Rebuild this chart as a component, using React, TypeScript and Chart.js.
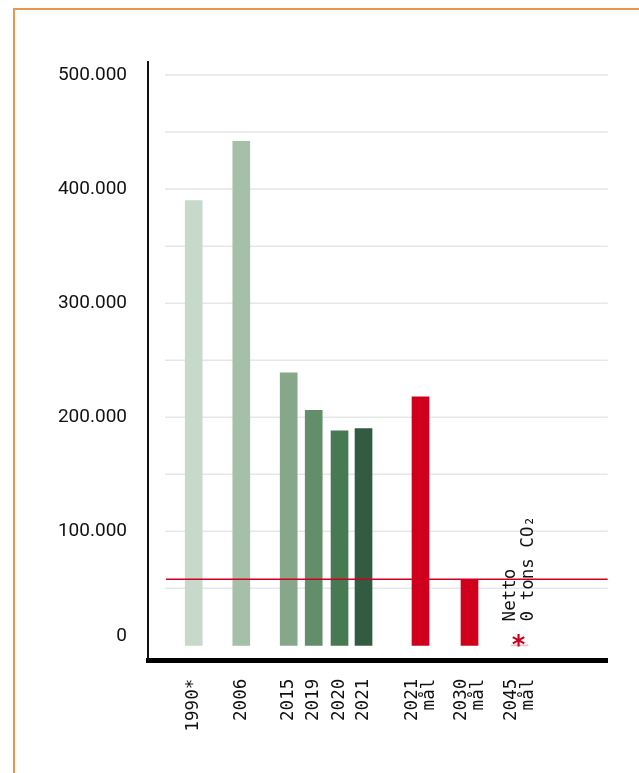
import React, { useEffect, useRef } from 'react';
import { Chart, registerables } from 'chart.js';

Chart.register(...registerables);

// ---- data ----
const categories: string[][] = [
  ['1990*'], ['2006'], ['2015'], ['2019'], ['2020'], ['2021'],
  ['2021', 'mål'], ['2030', 'mål'], ['2045', 'mål'],
];
const emissions: number[] = [390000, 442000, 239000, 206000, 188000, 190000, 218000, 58000, 0];
// x-axis slot (data units on a linear index axis) for each category
const slots: number[] = [1.89, 3.856, 5.815, 6.849, 7.916, 8.908, 11.263, 13.288, 15.355];
const gridValues: number[] = [50000, 100000, 150000, 200000, 250000, 300000, 350000, 400000, 450000, 500000];
const labelStep = 100000;
const noteLines: string[] = ['Netto', '0 tons CO₂'];
const goalIndex = 7; // red line level = 2030 goal
const netZeroIndex = 8;

// ---- styles ----
const barColors: string[] = [
  '#c6d9cb', '#a6bfa9', '#87a78b', '#628e6a', '#477a52', '#325c41',
  '#d0001c', '#d0001c', '#f4c0c6',
];
const RED = '#d0001c';
const TEXT = '#111111';
const MONO = '"DejaVu Sans Mono", monospace';

const fmt = (v: number) => String(v).replace(/\B(?=(\d{3})+(?!\d))/g, '.');

const decor = {
  id: 'decor',
  beforeDatasetsDraw(chart: any) {
    const { ctx, chartArea, scales } = chart;
    const y = scales.y;
    ctx.save();
    ctx.strokeStyle = '#e3e9e5';
    ctx.lineWidth = 1.5;
    gridValues.forEach((v) => {
      const py = y.getPixelForValue(v);
      ctx.beginPath();
      ctx.moveTo(chartArea.left + 17, py);
      ctx.lineTo(chartArea.right, py);
      ctx.stroke();
    });
    ctx.restore();
  },
  afterDatasetsDraw(chart: any) {
    const { ctx, chartArea, scales } = chart;
    const x = scales.x;
    const y = scales.y;
    const y0 = y.getPixelForValue(0);
    ctx.save();

    // goal line
    const gy = y.getPixelForValue(emissions[goalIndex]);
    ctx.strokeStyle = RED;
    ctx.lineWidth = 1.5;
    ctx.beginPath();
    ctx.moveTo(chartArea.left + 18, gy);
    ctx.lineTo(chartArea.right, gy);
    ctx.stroke();

    // "0" y label
    ctx.fillStyle = TEXT;
    ctx.font = '19px Roboto';
    ctx.textAlign = 'right';
    ctx.textBaseline = 'middle';
    ctx.fillText('0', chartArea.left - 21, y0 - 9);

    // x labels (rotated, end at top)
    ctx.font = `17.5px ${MONO}`;
    const lh = 17;
    categories.forEach((lines, i) => {
      const px = x.getPixelForValue(slots[i]);
      ctx.save();
      ctx.translate(px, chartArea.bottom + 18);
      ctx.rotate(-Math.PI / 2);
      ctx.textAlign = 'right';
      ctx.textBaseline = 'middle';
      lines.forEach((ln, j) => {
        ctx.fillText(ln, 0, (j - (lines.length - 1) / 2) * lh);
      });
      ctx.restore();
    });

    // net zero note
    const nx = x.getPixelForValue(slots[netZeroIndex]);
    ctx.save();
    ctx.translate(nx, y0 - 24);
    ctx.rotate(-Math.PI / 2);
    ctx.textAlign = 'left';
    ctx.textBaseline = 'middle';
    const nlh = 17.5;
    noteLines.forEach((ln, j) => {
      ctx.fillText(ln, 0, (j - (noteLines.length - 1) / 2) * nlh);
    });
    ctx.restore();

    // asterisk
    ctx.fillStyle = RED;
    ctx.font = 'bold 26px "DejaVu Sans"';
    ctx.textAlign = 'center';
    ctx.textBaseline = 'alphabetic';
    ctx.fillText('*', nx - 1, y0 + 8.5);

    ctx.restore();
  },
};

export default function App() {
  const ref = useRef<HTMLCanvasElement>(null);
  useEffect(() => {
    if (!ref.current) return;
    const chart = new Chart(ref.current, {
      type: 'bar',
      data: {
        datasets: [
          {
            data: emissions.map((v, i) => ({ x: slots[i], y: v })) as any,
            backgroundColor: barColors,
            borderWidth: 0,
            barThickness: 17,
            minBarLength: 1,
          },
        ],
      },
      options: {
        animation: false,
        responsive: false,
        maintainAspectRatio: false,
        layout: { padding: { left: 0, top: 61.7, right: 31.3, bottom: 0 } },
        plugins: { legend: { display: false }, tooltip: { enabled: false } },
        scales: {
          x: {
            type: 'linear',
            min: 0,
            max: 19,
            offset: false,
            grid: { display: false, drawTicks: false },
            border: { display: true, color: '#000', width: 5 },
            ticks: { display: false },
            afterFit: (s: any) => { s.height = 112.2; },
          },
          y: {
            type: 'linear',
            min: -13500,
            max: 511700,
            grid: { display: false, drawTicks: false },
            border: { display: true, color: '#111', width: 2 },
            afterBuildTicks: (s: any) => { s.ticks = gridValues.map((v) => ({ value: v })); },
            afterFit: (s: any) => { s.width = 148; },
            ticks: {
              autoSkip: false,
              padding: 21,
              color: TEXT,
              font: { family: 'Roboto', size: 19 },
              callback: (v: any) => (Number(v) % labelStep === 0 ? fmt(Number(v)) : ''),
            },
          },
        },
      } as any,
      plugins: [decor],
    });
    return () => chart.destroy();
  }, []);

  return (
    <>
      <div
        style={{
          position: 'absolute',
          left: 13,
          top: 8,
          width: 626,
          height: 765,
          boxSizing: 'border-box',
          borderTop: '2px solid #ec9548',
          borderLeft: '2px solid #ec9548',
        }}
      />
      <canvas
        ref={ref}
        width={639}
        height={773}
        style={{ position: 'absolute', left: 0, top: 0, width: 639, height: 773 }}
      />
    </>
  );
}
